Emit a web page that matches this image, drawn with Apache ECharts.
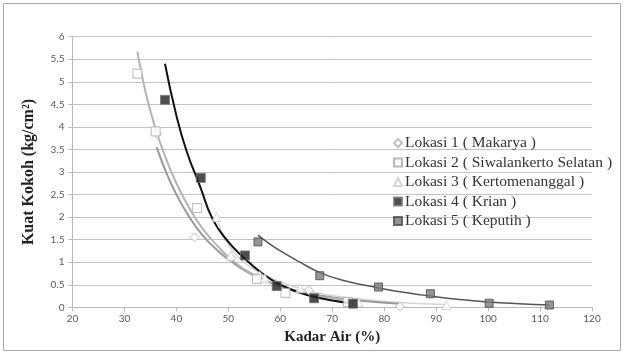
<!DOCTYPE html>
<html>
<head>
<meta charset="utf-8">
<script src="https://cdn.jsdelivr.net/npm/echarts@6/dist/echarts.min.js"></script>
<style>
html,body{margin:0;padding:0;background:#fff;}
#chart{width:625px;height:354px;}
</style>
</head>
<body>
<div id="chart"></div>
<script>
// Series names
var seriesNames = ['Lokasi 1 ( Makarya )', 'Lokasi 2 ( Siwalankerto Selatan )', 'Lokasi 3 ( Kertomenanggal )', 'Lokasi 4 ( Krian )', 'Lokasi 5 ( Keputih )'];

// Measured points [Kadar Air (%), Kuat Kokoh]
var lokasi1 = [[36.3, 3.85], [43.5, 1.55], [50.5, 1.1], [56, 0.7], [65.5, 0.38], [83, 0.02]];
var lokasi2 = [[32.5, 5.18], [36, 3.9], [44, 2.2], [55.5, 0.63], [61, 0.32], [73, 0.12]];
var lokasi3 = [[47.7, 2.0], [50.5, 1.15], [57, 0.65], [63.8, 0.42], [75, 0.12], [92, 0.05]];
var lokasi4 = [[37.8, 4.6], [44.7, 2.87], [53.2, 1.15], [59.3, 0.47], [66.5, 0.2], [74, 0.08]];
var lokasi5 = [[55.7, 1.45], [67.6, 0.7], [78.9, 0.45], [88.9, 0.3], [100.2, 0.09], [111.8, 0.05]];

// Trend curves
var trend1 = [[36.2, 3.55], [38, 3.0], [40, 2.5], [42.5, 2.0], [45, 1.6], [48, 1.25], [51, 0.98], [55, 0.7], [60, 0.47], [65, 0.32], [70, 0.22], [76, 0.14], [83, 0.08]];
var trend2 = [[32.5, 5.67], [34, 4.8], [36, 3.95], [38, 3.3], [40, 2.75], [42.5, 2.2], [45, 1.75], [48, 1.35], [51, 1.02], [55, 0.72], [60, 0.47], [65, 0.3], [70, 0.2], [74, 0.15]];
var trend3 = [[47.7, 2.0], [50, 1.4], [53, 1.0], [56, 0.78], [60, 0.56], [65, 0.38], [70, 0.26], [80, 0.13], [92, 0.06]];
var trend4 = [[37.8, 5.4], [40, 4.25], [42, 3.45], [44.5, 2.7], [47, 1.95], [50, 1.45], [53, 1.1], [56, 0.8], [60, 0.5], [65, 0.28], [70, 0.15], [74, 0.09]];
var trend5 = [[55.7, 1.6], [58, 1.4], [60, 1.25], [63.8, 1.0], [67.6, 0.77], [72, 0.6], [78.9, 0.43], [85, 0.31], [88.9, 0.25], [95, 0.17], [100, 0.12], [106, 0.08], [111.8, 0.05]];

var chart = echarts.init(document.getElementById('chart'), null, {renderer: 'canvas'});

function trendSeries(data, color, width) {
  return {
    type: 'line', data: data, smooth: true, showSymbol: false, symbol: 'none',
    lineStyle: {color: color, width: width}, silent: true, z: 2
  };
}

var option = {
  backgroundColor: '#fff',
  animation: false,
  grid: {left: 72.5, right: 33, top: 36.7, bottom: 46.7},
  graphic: [{
    type: 'rect', shape: {x: 3.5, y: 3.5, width: 617, height: 347},
    style: {fill: 'none', stroke: '#a8a8a8', lineWidth: 1}, z: 0
  }],
  legend: {
    orient: 'vertical', left: 388, top: 130, itemGap: 3.5,
    itemWidth: 8, itemHeight: 8,
    textStyle: {fontFamily: 'Liberation Serif', fontSize: 15.5, color: '#333', padding: [0, 0, 0, -2]},
    data: [
      {name: seriesNames[0], icon: 'diamond'},
      {name: seriesNames[1], icon: 'rect'},
      {name: seriesNames[2], icon: 'triangle'},
      {name: seriesNames[3], icon: 'rect'},
      {name: seriesNames[4], icon: 'rect'}
    ]
  },
  xAxis: {
    type: 'value', min: 20, max: 120, interval: 10,
    name: 'Kadar Air (%)', nameLocation: 'middle', nameGap: 22,
    nameTextStyle: {fontFamily: 'Liberation Serif', fontWeight: 'bold', fontSize: 15, color: '#222'},
    axisLine: {lineStyle: {color: '#b8b8b8'}},
    axisTick: {show: true, length: 4, lineStyle: {color: '#b8b8b8'}},
    axisLabel: {fontFamily: 'Lato', fontSize: 10, color: '#595959', margin: 6},
    splitLine: {show: false}
  },
  yAxis: {
    type: 'value', min: 0, max: 6, interval: 0.5,
    name: 'Kuat Kokoh (kg/cm²)', nameLocation: 'middle', nameGap: 36, nameRotate: 90,
    nameTextStyle: {fontFamily: 'Liberation Serif', fontWeight: 'bold', fontSize: 16, color: '#222'},
    axisLine: {show: true, lineStyle: {color: '#b8b8b8'}},
    axisTick: {show: true, length: 4, lineStyle: {color: '#b8b8b8'}},
    axisLabel: {fontFamily: 'Lato', fontSize: 10, color: '#595959', margin: 8},
    splitLine: {show: true, lineStyle: {color: '#c4c4c4', width: 1}}
  },
  series: [
    trendSeries(trend3, '#d4d4d4', 1.5),
    trendSeries(trend1, '#9a9a9a', 2),
    trendSeries(trend2, '#b4b4b4', 2),
    trendSeries(trend5, '#555555', 1.5),
    trendSeries(trend4, '#111111', 2),
    {name: seriesNames[0], type: 'scatter', data: lokasi1, symbol: 'diamond', symbolSize: 9,
     itemStyle: {color: '#ffffff', borderColor: '#b0b0b0', borderWidth: 1}, z: 3},
    {name: seriesNames[1], type: 'scatter', data: lokasi2, symbol: 'rect', symbolSize: 9,
     itemStyle: {color: '#ffffff', borderColor: '#a8a8a8', borderWidth: 1}, z: 3},
    {name: seriesNames[2], type: 'scatter', data: lokasi3, symbol: 'triangle', symbolSize: 9,
     itemStyle: {color: '#ffffff', borderColor: '#cccccc', borderWidth: 1}, z: 3},
    {name: seriesNames[3], type: 'scatter', data: lokasi4, symbol: 'rect', symbolSize: 9,
     itemStyle: {color: '#222222', borderColor: '#777777', borderWidth: 1}, z: 4},
    {name: seriesNames[4], type: 'scatter', data: lokasi5, symbol: 'rect', symbolSize: 8,
     itemStyle: {color: '#7a7a7a', borderColor: '#4a4a4a', borderWidth: 1}, z: 4}
  ]
};
chart.setOption(option);
</script>
</body>
</html>
